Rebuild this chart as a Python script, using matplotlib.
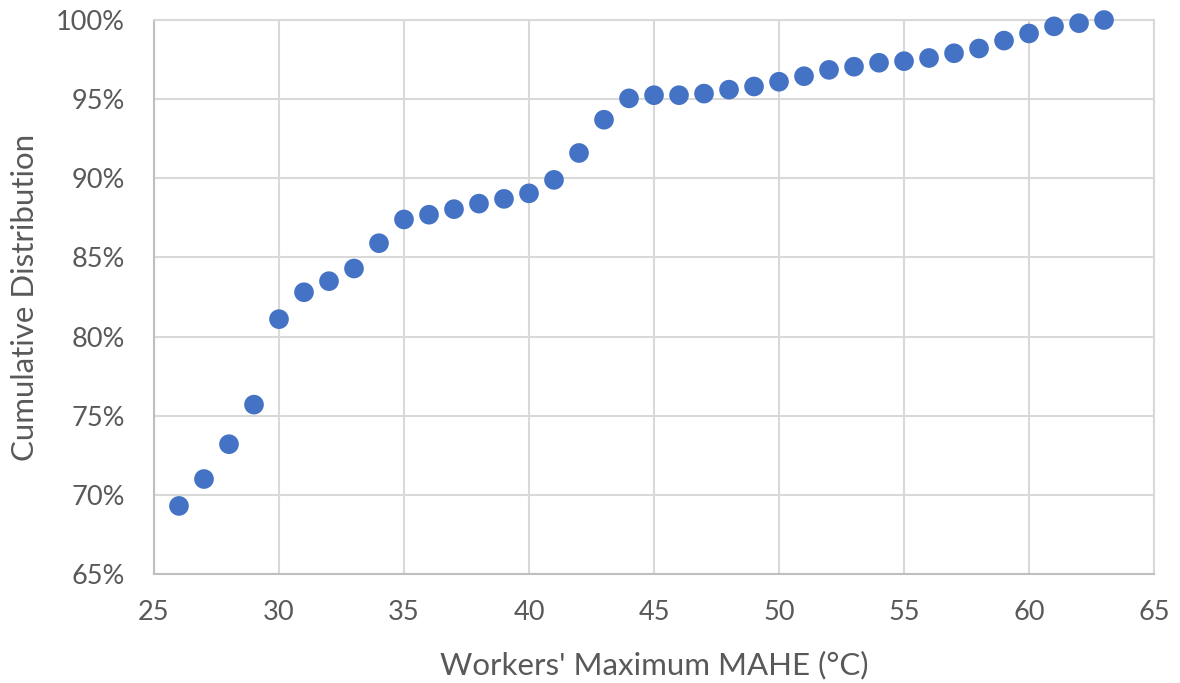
"""
Cumulative distribution of workers' maximum MAHE
"""
import matplotlib
matplotlib.use("Agg")
import matplotlib.pyplot as plt
from matplotlib.ticker import FuncFormatter

mahe = list(range(26, 64))
cum_pct = [69.3, 71.0, 73.2, 75.7, 81.1, 82.8, 83.5, 84.3, 85.9, 87.4,
           87.7, 88.05, 88.4, 88.7, 89.05, 89.9, 91.6, 93.7, 95.05, 95.25,
           95.25, 95.35, 95.6, 95.8, 96.1, 96.45, 96.85, 97.05, 97.3, 97.4,
           97.6, 97.9, 98.2, 98.7, 99.15, 99.6, 99.8, 100.0]

x_ticks = list(range(25, 70, 5))
y_ticks = list(range(65, 105, 5))

plt.rcParams['font.family'] = ['Lato', 'DejaVu Sans']

fig = plt.figure(figsize=(11.8, 6.83), dpi=100)
ax = fig.add_axes([0.1305, 0.1596, 0.8475, 0.8111])

ax.scatter(mahe, cum_pct, s=200, color='#4472C4', edgecolors='none', zorder=3,
           clip_on=False)

ax.set_xlim(25, 65)
ax.set_ylim(65, 100)
ax.set_xticks(x_ticks)
ax.set_yticks(y_ticks)
ax.yaxis.set_major_formatter(FuncFormatter(lambda v, _: f"{v:.0f}%"))

ax.grid(True, color='#d9d9d9', linewidth=1.5, zorder=0)
for side in ['top', 'right']:
    ax.spines[side].set_color('#d9d9d9')
    ax.spines[side].set_linewidth(1.5)
for side in ['left', 'bottom']:
    ax.spines[side].set_color('#bfbfbf')
    ax.spines[side].set_linewidth(1.5)

ax.tick_params(length=0, labelsize=19.5, labelcolor='#595959')
ax.tick_params(axis='y', pad=21)
ax.tick_params(axis='x', pad=19)
ax.set_xlabel("Workers' Maximum MAHE (°C)", fontsize=22.5, color='#595959',
              va='center')
ax.set_ylabel("Cumulative Distribution", fontsize=22.5, color='#595959',
              va='center')
ax.xaxis.set_label_coords(0.5, -0.164)
ax.yaxis.set_label_coords(-0.129, 0.5)

fig.savefig("out.png", dpi=100)
